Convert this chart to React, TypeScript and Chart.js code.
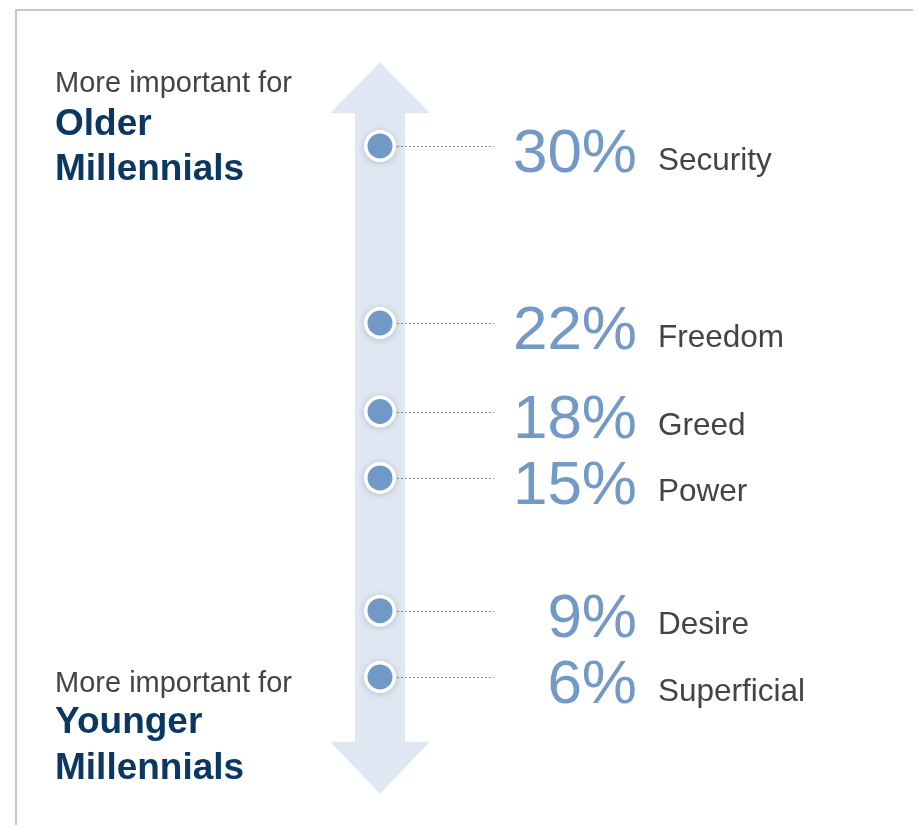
import React, { useEffect, useRef } from "react";
import { Chart, registerables } from "chart.js";

Chart.register(...registerables);

const categories = ["Security", "Freedom", "Greed", "Power", "Desire", "Superficial"];
const values = [30, 22, 18, 15, 9, 6];
const topTexts = ["More important for", "Older", "Millennials"];
const bottomTexts = ["More important for", "Younger", "Millennials"];

const FONT = 'Arial, "Liberation Sans", Helvetica, sans-serif';
const BLUE = "#7399c6";
const NAVY = "#0b3763";
const GRAY_TEXT = "#444444";
const ARROW = "#dfe8f2";

const decoPlugin = {
  id: "deco",
  beforeDatasetsDraw(chart: any) {
    const { ctx, chartArea } = chart;
    const xs = chart.scales.x;
    const cx = xs.getPixelForValue(0);
    ctx.save();
    // frame (top and left lines)
    ctx.strokeStyle = "#c8c8c8";
    ctx.lineWidth = 2;
    ctx.beginPath();
    ctx.moveTo(8, chart.height);
    ctx.lineTo(8, 2);
    ctx.lineTo(chart.width, 2);
    ctx.stroke();

    // double arrow
    const tipTop = chartArea.top + 49;
    const headTop = chartArea.top + 100;
    const tipBot = chartArea.bottom - 16;
    const headBot = chartArea.bottom - 68;
    const shaft = 25;
    const head = 50;
    ctx.fillStyle = ARROW;
    ctx.beginPath();
    ctx.moveTo(cx, tipTop);
    ctx.lineTo(cx + head, headTop);
    ctx.lineTo(cx + shaft, headTop);
    ctx.lineTo(cx + shaft, headBot);
    ctx.lineTo(cx + head, headBot);
    ctx.lineTo(cx, tipBot);
    ctx.lineTo(cx - head, headBot);
    ctx.lineTo(cx - shaft, headBot);
    ctx.lineTo(cx - shaft, headTop);
    ctx.lineTo(cx - head, headTop);
    ctx.closePath();
    ctx.fill();

    const meta = chart.getDatasetMeta(0);
    // dotted leader lines
    ctx.strokeStyle = "#8a8a8a";
    ctx.lineWidth = 1;
    ctx.setLineDash([2, 2]);
    meta.data.forEach((pt: any) => {
      const yy = Math.round(pt.y) + 0.5;
      ctx.beginPath();
      ctx.moveTo(pt.x + 17, yy);
      ctx.lineTo(pt.x + 114, yy);
      ctx.stroke();
    });
    ctx.setLineDash([]);

    // point shadows
    meta.data.forEach((pt: any) => {
      ctx.save();
      ctx.shadowColor = "rgba(0,0,0,0.22)";
      ctx.shadowBlur = 7;
      ctx.shadowOffsetY = 1;
      ctx.fillStyle = "#ffffff";
      ctx.beginPath();
      ctx.arc(pt.x, pt.y, 15.5, 0, Math.PI * 2);
      ctx.fill();
      ctx.restore();
    });
    ctx.restore();
  },
  afterDatasetsDraw(chart: any) {
    const { ctx, chartArea } = chart;
    const meta = chart.getDatasetMeta(0);
    ctx.save();
    ctx.textBaseline = "alphabetic";
    meta.data.forEach((pt: any, i: number) => {
      ctx.font = `62px ${FONT}`;
      ctx.fillStyle = BLUE;
      ctx.textAlign = "right";
      ctx.fillText(`${values[i]}%`, pt.x + 257, pt.y + 26);
      ctx.font = `31.5px ${FONT}`;
      ctx.fillStyle = GRAY_TEXT;
      ctx.textAlign = "left";
      ctx.fillText(categories[i], pt.x + 278, pt.y + 23.5);
    });

    // side captions
    const lx = 47;
    ctx.textAlign = "left";
    ctx.font = `29px ${FONT}`;
    ctx.fillStyle = GRAY_TEXT;
    ctx.fillText(topTexts[0], lx, chartArea.top + 79);
    ctx.font = `bold 37px ${FONT}`;
    ctx.fillStyle = NAVY;
    ctx.fillText(topTexts[1], lx, chartArea.top + 122);
    ctx.fillText(topTexts[2], lx, chartArea.top + 167);

    ctx.font = `29px ${FONT}`;
    ctx.fillStyle = GRAY_TEXT;
    ctx.fillText(bottomTexts[0], lx, chartArea.bottom - 118);
    ctx.font = `bold 37px ${FONT}`;
    ctx.fillStyle = NAVY;
    ctx.fillText(bottomTexts[1], lx, chartArea.bottom - 77);
    ctx.fillText(bottomTexts[2], lx, chartArea.bottom - 31);
    ctx.restore();
  },
};

export default function App() {
  const ref = useRef<HTMLCanvasElement | null>(null);
  useEffect(() => {
    if (!ref.current) return;
    const chart = new Chart(ref.current, {
      type: "scatter",
      data: {
        labels: categories,
        datasets: [
          {
            data: values.map((v) => ({ x: 0, y: v })),
            backgroundColor: "#7099c8",
            borderColor: "#ffffff",
            borderWidth: 3.5,
            pointRadius: 14.25,
            pointHoverRadius: 14.25,
          },
        ],
      },
      options: {
        responsive: false,
        animation: false,
        events: [],
        layout: { autoPadding: false, padding: { top: 5.25, bottom: 15.25, left: 0, right: 161 } },
        plugins: { legend: { display: false }, tooltip: { enabled: false } },
        scales: {
          x: { type: "linear", min: -1, max: 1, display: false },
          y: { type: "linear", min: 0, max: 36, display: false },
        },
      },
      plugins: [decoPlugin],
    });
    return () => chart.destroy();
  }, []);
  return (
    <div style={{ width: 905, height: 817 }}>
      <canvas ref={ref} width={905} height={817} style={{ display: "block" }} />
    </div>
  );
}
